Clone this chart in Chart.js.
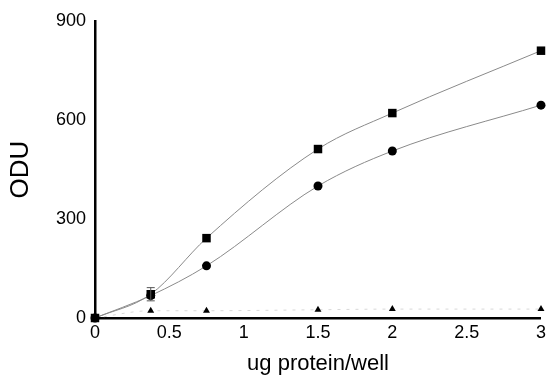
<!DOCTYPE html>
<html>
<head>
<meta charset="utf-8">
<script src="https://cdn.jsdelivr.net/npm/chart.js@4"></script>
<style>
html,body{margin:0;padding:0;background:#fff;}
#wrap{width:550px;height:375px;}
</style>
</head>
<body>
<div id="wrap"><canvas id="c" width="550" height="375"></canvas></div>
<script>
const doses = [0, 0.375, 0.75, 1.5, 2, 3];
const squareValues = [0, 72, 242, 512, 621, 810];
const squareErr = [0, 20, 0, 0, 0, 0];
const circleValues = [0, 68, 158, 400, 506, 645];
const triangleValues = [0, 22, 22, 25, 27, 27];
const xTicks = [0, 0.5, 1, 1.5, 2, 2.5, 3];
const yTicks = [0, 300, 600, 900];

const toPts = vals => doses.map((d, i) => ({x: d, y: vals[i]}));

const errPlugin = {
  id: 'errbars',
  afterDatasetsDraw(chart) {
    const ctx = chart.ctx;
    const xs = chart.scales.x, ys = chart.scales.y;
    ctx.save();
    ctx.strokeStyle = '#555';
    ctx.lineWidth = 1;
    doses.forEach((d, i) => {
      const e = squareErr[i];
      if (!e) return;
      const px = xs.getPixelForValue(d);
      const top = ys.getPixelForValue(squareValues[i] + e);
      const bot = ys.getPixelForValue(squareValues[i] - e);
      ctx.beginPath();
      ctx.moveTo(px, top); ctx.lineTo(px, bot);
      ctx.moveTo(px - 4, top); ctx.lineTo(px + 4, top);
      ctx.moveTo(px - 4, bot); ctx.lineTo(px + 4, bot);
      ctx.stroke();
    });
    ctx.restore();
  }
};

const FONT = 'Liberation Sans, Arial, sans-serif';

new Chart(document.getElementById('c'), {
  type: 'scatter',
  data: {
    datasets: [
      {
        label: 'square',
        data: toPts(squareValues),
        showLine: true,
        clip: false,
        borderColor: '#8a8a8a',
        borderWidth: 1,
        cubicInterpolationMode: 'monotone',
        pointStyle: 'rect',
        pointRadius: 6,
        pointBackgroundColor: '#000',
        pointBorderColor: '#000',
        pointBorderWidth: 0
      },
      {
        label: 'circle',
        data: toPts(circleValues),
        showLine: true,
        clip: false,
        borderColor: '#8a8a8a',
        borderWidth: 1,
        cubicInterpolationMode: 'monotone',
        pointStyle: 'circle',
        pointRadius: 4.5,
        pointBackgroundColor: '#000',
        pointBorderColor: '#000',
        pointBorderWidth: 0
      },
      {
        label: 'triangle',
        data: toPts(triangleValues),
        showLine: true,
        clip: false,
        borderColor: '#d8d8d8',
        borderWidth: 1,
        borderDash: [3, 6],
        cubicInterpolationMode: 'monotone',
        pointStyle: 'triangle',
        pointRadius: 4,
        pointBackgroundColor: '#000',
        pointBorderColor: '#000',
        pointBorderWidth: 0
      }
    ]
  },
  options: {
    responsive: false,
    animation: false,
    layout: {padding: {left: 0, right: 5, top: 21, bottom: 0}},
    plugins: {legend: {display: false}, tooltip: {enabled: false}},
    scales: {
      x: {
        type: 'linear',
        min: 0, max: 3,
        afterFit(s) { s.height = 57; },
        afterBuildTicks(s) { s.ticks = xTicks.map(v => ({value: v})); },
        grid: {display: false, drawTicks: false},
        border: {display: true, color: '#000', width: 2.5},
        ticks: {
          color: '#000', padding: 4,
          font: {family: FONT, size: 18},
          callback: v => String(v)
        },
        title: {
          display: true, text: 'ug protein/well', color: '#000',
          font: {family: FONT, size: 22, lineHeight: 1.05},
          padding: {top: 0, bottom: 0}
        }
      },
      y: {
        type: 'linear',
        min: 0, max: 900,
        afterFit(s) { s.width = 95; },
        afterBuildTicks(s) { s.ticks = yTicks.map(v => ({value: v})); },
        grid: {display: false, drawTicks: false},
        border: {display: true, color: '#000', width: 2.5},
        ticks: {
          color: '#000', padding: 9,
          font: {family: FONT, size: 18},
          callback: v => String(v)
        },
        title: {
          display: true, text: 'ODU', color: '#000',
          font: {family: FONT, size: 26},
          padding: {top: 5, bottom: 0}
        }
      }
    }
  },
  plugins: [errPlugin]
});
</script>
</body>
</html>
